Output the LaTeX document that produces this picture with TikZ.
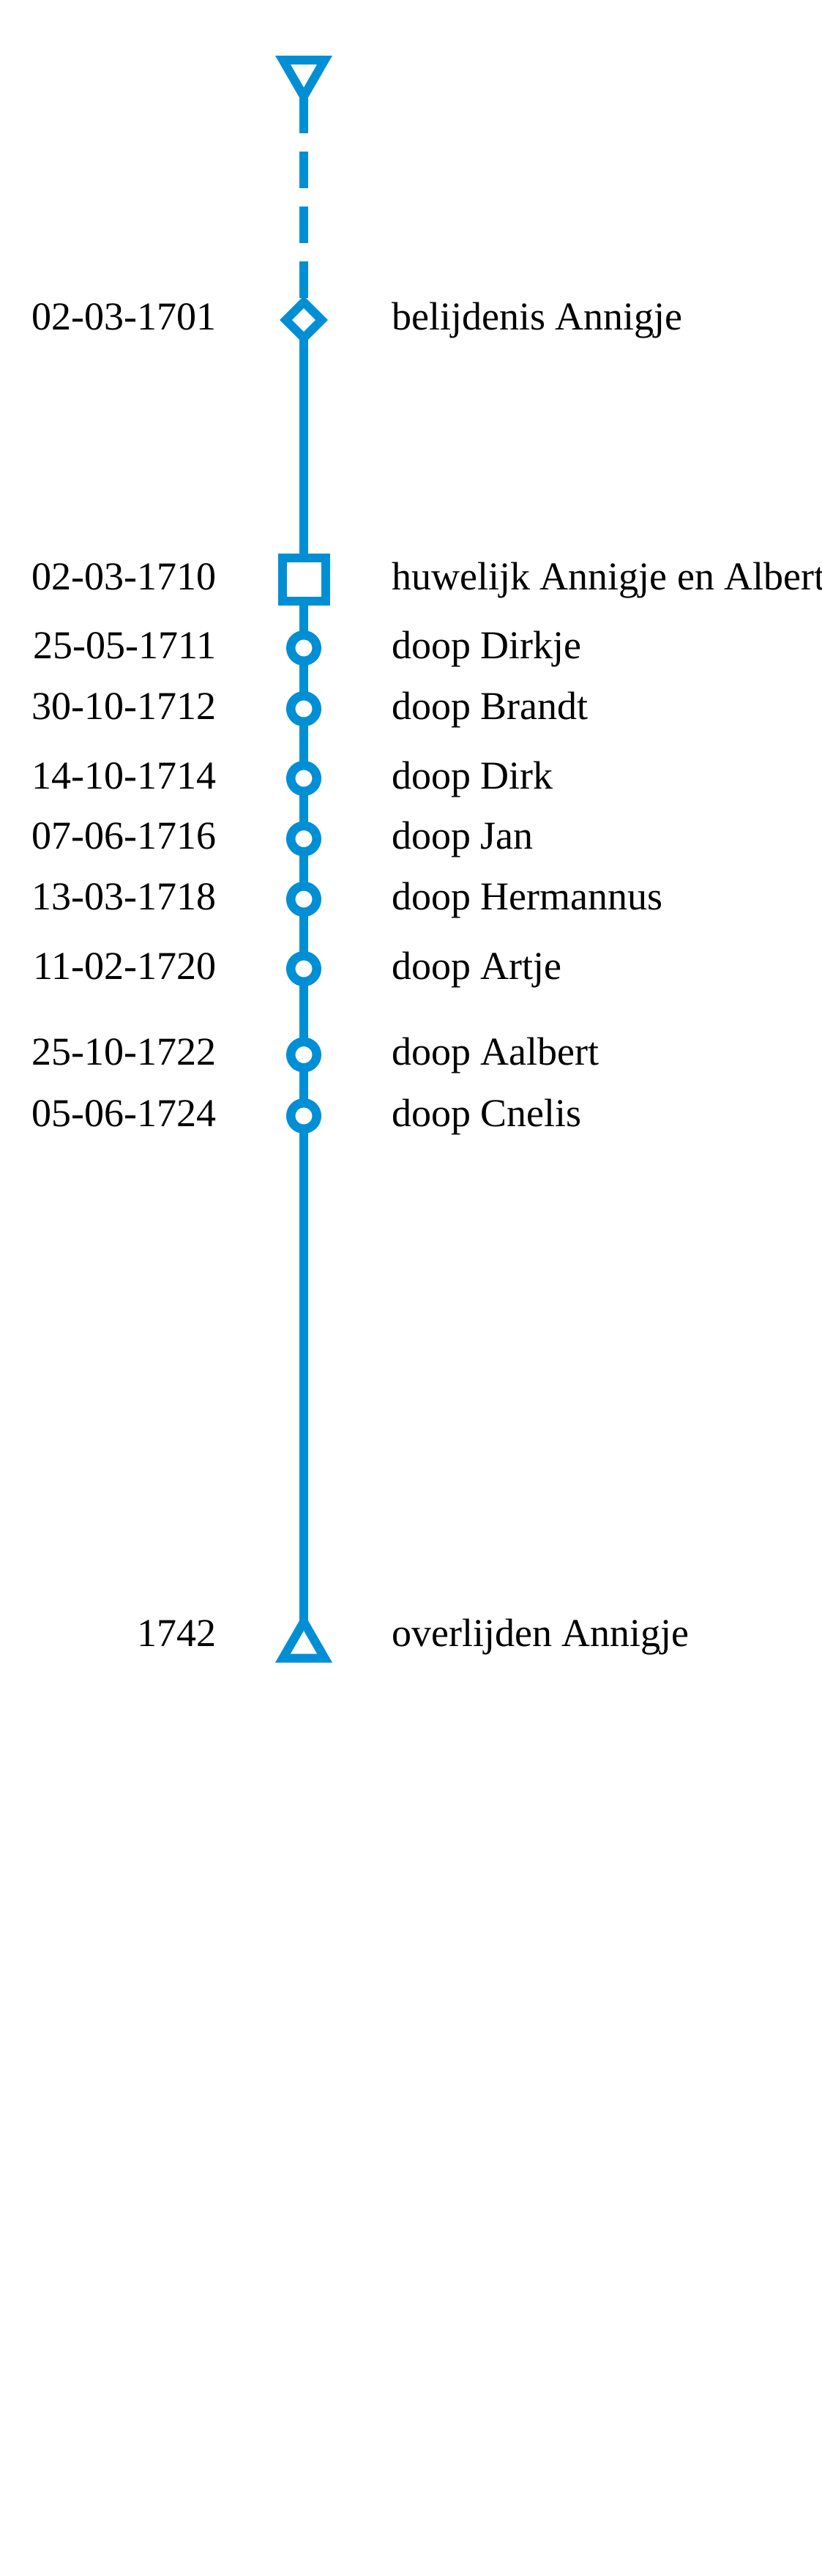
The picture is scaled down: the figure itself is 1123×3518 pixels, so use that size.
\documentclass[tikz,border=0pt]{standalone}
\usepackage{fontspec}
\setmainfont{Liberation Serif}
\usetikzlibrary{shapes.geometric}
\definecolor{lijnblauw}{RGB}{0,143,213}

\begin{document}
\begin{tikzpicture}[x=1pt,y=-1pt,
        marker/.style={draw=lijnblauw, line width=12pt, fill=white, inner sep=0pt, outer sep=0pt},
        doopmark/.style={marker, circle, minimum size=35.5pt, line width=12.5pt},
        driehoek/.style={marker, regular polygon, regular polygon sides=3, minimum size=66pt},
        datum/.style={anchor=base east, inner sep=0pt, font=\fontsize{54}{60}\selectfont},
        gebeurtenis/.style={anchor=base west, inner sep=0pt, font=\fontsize{54}{60}\selectfont},
        tijdlijn/.style={draw=lijnblauw, line width=12pt}]
            \path[use as bounding box] (0,0) rectangle (1123,3518);

            % markers op de tijdlijn
            \node[driehoek, shape border rotate=180] (begin) at (415,98.5) {};
            \node[marker, diamond, minimum width=49pt, minimum height=49pt] (belijdenis) at (415,437) {};
            \node[marker, rectangle, minimum size=59pt] (huwelijk) at (415,791) {};
            \node[doopmark] (dirkje) at (415,885) {};
            \node[doopmark] (brandt) at (415,968) {};
            \node[doopmark] (dirk) at (415,1063) {};
            \node[doopmark] (jan) at (415,1145.5) {};
            \node[doopmark] (hermannus) at (415,1228) {};
            \node[doopmark] (artje) at (415,1323) {};
            \node[doopmark] (aalbert) at (415,1440.5) {};
            \node[doopmark] (cnelis) at (415,1524) {};
            \node[driehoek] (einde) at (415,2248) {};

            % verbindingen
            \draw[tijdlijn, dash pattern=on 50pt off 25pt] (begin) -- (belijdenis);
            \draw[tijdlijn] (belijdenis) -- (huwelijk) -- (dirkje) -- (brandt) -- (dirk) -- (jan)
                -- (hermannus) -- (artje) -- (aalbert) -- (cnelis) -- (einde);

            % datums (basislijn)
            \node[datum] (d-belijdenis) at (296,450) {02-03-1701};
            \node[datum] (d-huwelijk) at (296,805) {02-03-1710};
            \node[datum] (d-dirkje) at (296,899) {25-05-1711};
            \node[datum] (d-brandt) at (296,982) {30-10-1712};
            \node[datum] (d-dirk) at (296,1077) {14-10-1714};
            \node[datum] (d-jan) at (296,1159.5) {07-06-1716};
            \node[datum] (d-hermannus) at (296,1242) {13-03-1718};
            \node[datum] (d-artje) at (296,1337) {11-02-1720};
            \node[datum] (d-aalbert) at (296,1454.5) {25-10-1722};
            \node[datum] (d-cnelis) at (296,1538) {05-06-1724};
            \node[datum] (d-einde) at (296,2248) {1742};

            % gebeurtenissen
            \node[gebeurtenis] (g-belijdenis) at (535,450) {belijdenis Annigje};
            \node[gebeurtenis] (g-huwelijk) at (535,805) {huwelijk Annigje en Albert};
            \node[gebeurtenis] (g-dirkje) at (535,899) {doop Dirkje};
            \node[gebeurtenis] (g-brandt) at (535,982) {doop Brandt};
            \node[gebeurtenis] (g-dirk) at (535,1077) {doop Dirk};
            \node[gebeurtenis] (g-jan) at (535,1159.5) {doop Jan};
            \node[gebeurtenis] (g-hermannus) at (535,1242) {doop Hermannus};
            \node[gebeurtenis] (g-artje) at (535,1337) {doop Artje};
            \node[gebeurtenis] (g-aalbert) at (535,1454.5) {doop Aalbert};
            \node[gebeurtenis] (g-cnelis) at (535,1538) {doop Cnelis};
            \node[gebeurtenis] (g-einde) at (535,2248) {overlijden Annigje};
        \end{tikzpicture}
\end{document}
